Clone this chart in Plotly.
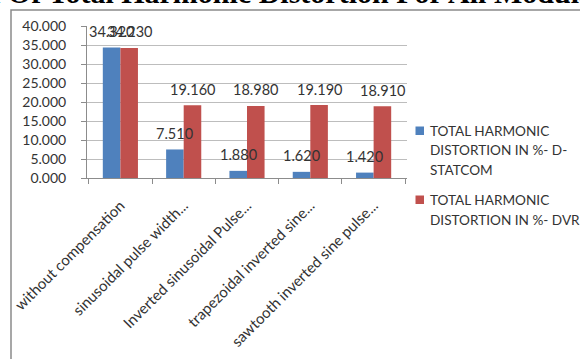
import plotly.graph_objects as go

# Modulation techniques compared
categories = [
    "without compensation",
    "sinusoidal pulse width...",
    "Inverted sinusoidal Pulse...",
    "trapezoidal inverted sine...",
    "sawtooth inverted sine pulse...",
]
thd_dstatcom = [34.320, 7.510, 1.880, 1.620, 1.420]
thd_dvr = [34.230, 19.160, 18.980, 19.190, 18.910]

series_names = [
    "TOTAL HARMONIC DISTORTION IN %- D-STATCOM",
    "TOTAL HARMONIC DISTORTION IN %- DVR",
]
legend_lines = [
    ["TOTAL HARMONIC", "DISTORTION IN %- D-", "STATCOM"],
    ["TOTAL HARMONIC", "DISTORTION IN %- DVR"],
]
y_ticks = [0, 5, 10, 15, 20, 25, 30, 35, 40]
title_text = "Comparison Of Total Harmonic Distortion For All Modulation Techniques"

W, H = 580, 359
ML, MR, MT, MB = 87, 173, 26, 181
PW, PH = W - ML - MR, H - MT - MB

BLUE = "#4F81BD"
RED = "#C0504D"
TXT = "#333333"
FONT = "Lato"


def px_x(px):
    return (px - ML) / PW


def px_y(py):
    return (MT + PH - py) / PH


fig = go.Figure()
fig.add_trace(go.Bar(x=categories, y=thd_dstatcom, name=series_names[0],
                     marker=dict(color=BLUE, line=dict(width=0))))
fig.add_trace(go.Bar(x=categories, y=thd_dvr, name=series_names[1],
                     marker=dict(color=RED, line=dict(width=0))))

# value labels above each bar
BARGAP = 0.445
bar_px = PW / len(categories) * (1 - BARGAP) / 2
annotations = []
for vals, shift in ((thd_dstatcom, -bar_px / 2), (thd_dvr, bar_px / 2)):
    for c, v in zip(categories, vals):
        annotations.append(dict(
            x=c, y=v, xref="x", yref="y", text=f"{v:.3f}", showarrow=False,
            xshift=shift, yshift=16, yanchor="middle",
            font=dict(family=FONT, size=14.5, color=TXT)))

# chart title, running past the top edge
annotations.append(dict(
    x=px_x(-160), y=px_y(11), xref="paper", yref="paper",
    xanchor="left", yanchor="bottom", showarrow=False,
    text=f"<b>{title_text}</b>",
    font=dict(family="Liberation Serif", size=30, color="#000000")))

# legend: colour key plus wrapped series names
shapes = [dict(type="rect", xref="paper", yref="paper",
               x0=px_x(11), x1=3, y0=-3, y1=px_y(10),
               line=dict(color="#8a8a8a", width=1.5), layer="below")]
legend_rows = [[130.5, 150.2, 170.0], [199.5, 219.5]]
for color, lines, rows in zip((BLUE, RED), legend_lines, legend_rows):
    top = rows[0]
    shapes.append(dict(type="rect", xref="paper", yref="paper",
                       x0=px_x(415.5), x1=px_x(424), y0=px_y(top + 4.5), y1=px_y(top - 4),
                       fillcolor=color, line=dict(width=0)))
    for text, cy in zip(lines, rows):
        annotations.append(dict(
            x=px_x(428), y=px_y(cy), xref="paper", yref="paper",
            xanchor="left", yanchor="middle", showarrow=False, text=text,
            font=dict(family=FONT, size=13.6, color=TXT)))

fig.update_layout(
    width=W, height=H,
    margin=dict(l=ML, r=MR, t=MT, b=MB, autoexpand=False),
    paper_bgcolor="white", plot_bgcolor="white",
    barmode="group", bargap=BARGAP, bargroupgap=0,
    showlegend=False,
    annotations=annotations,
    shapes=shapes,
)
fig.update_xaxes(
    type="category", showline=True, linecolor="#8c8c8c", linewidth=1,
    ticks="outside", tickson="boundaries", ticklen=5, tickcolor="#8c8c8c",
    tickangle=-45, tickfont=dict(family=FONT, size=15, color=TXT),
    showgrid=False, automargin=False, ticklabelstandoff=12)
fig.update_yaxes(
    range=[0, 40], tickvals=y_ticks, tickformat=".3f",
    showline=True, linecolor="#8c8c8c", linewidth=1,
    ticks="outside", ticklen=5, tickcolor="#8c8c8c",
    showgrid=True, gridcolor="#bdbdbd", gridwidth=1, zeroline=False,
    tickfont=dict(family=FONT, size=14, color=TXT), automargin=False,
    ticklabelstandoff=12)

fig.write_html("out.html")
